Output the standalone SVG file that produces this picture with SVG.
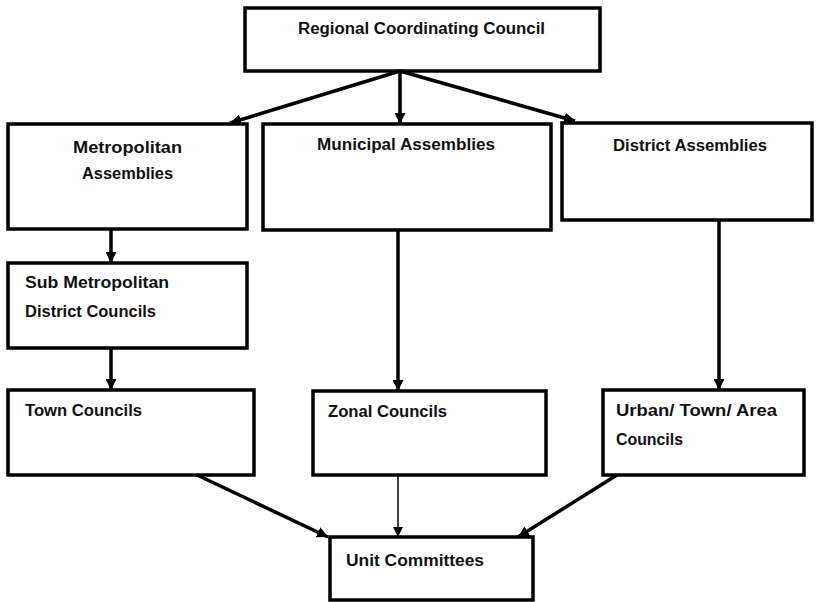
<svg xmlns="http://www.w3.org/2000/svg" width="817" height="602" viewBox="0 0 817 602">
<style>
.box{fill:#fff;stroke:#000;stroke-width:3.5}
.t{font-family:"Liberation Sans",Arial,sans-serif;font-weight:bold;font-size:16px;fill:#111}
.c{fill:none;stroke:#000;stroke-width:3.5}
.thin{fill:none;stroke:#000;stroke-width:1.5}
</style>
<defs>
<marker id="ah" viewBox="0 0 10 10" refX="10" refY="5" markerWidth="11" markerHeight="11" markerUnits="userSpaceOnUse" orient="auto">
<path d="M0,0 L10,5 L0,10 z" fill="#000"/>
</marker>
<marker id="ahs" viewBox="0 0 10 10" refX="10" refY="5" markerWidth="10" markerHeight="10" markerUnits="userSpaceOnUse" orient="auto">
<path d="M0,0 L10,5 L0,10 z" fill="#000"/>
</marker>
</defs>
<g id="regional"><rect class="box" x="245" y="8" width="355" height="63"/><text class="t" x="298" y="34" textLength="247" lengthAdjust="spacingAndGlyphs">Regional Coordinating Council</text></g>
<g id="metropolitan"><rect class="box" x="8" y="124" width="239" height="105"/><text class="t" x="73" y="153" textLength="109" lengthAdjust="spacingAndGlyphs">Metropolitan</text><text class="t" x="82" y="179" textLength="91" lengthAdjust="spacingAndGlyphs">Assemblies</text></g>
<g id="municipal"><rect class="box" x="263" y="124" width="288" height="106"/><text class="t" x="317" y="150" textLength="178" lengthAdjust="spacingAndGlyphs">Municipal Assemblies</text></g>
<g id="district"><rect class="box" x="562" y="123" width="250" height="97"/><text class="t" x="613" y="151" textLength="154" lengthAdjust="spacingAndGlyphs">District Assemblies</text></g>
<g id="submetro"><rect class="box" x="8" y="263" width="239" height="85"/><text class="t" x="25" y="288" textLength="144" lengthAdjust="spacingAndGlyphs">Sub Metropolitan</text><text class="t" x="25" y="317" textLength="131" lengthAdjust="spacingAndGlyphs">District Councils</text></g>
<g id="town"><rect class="box" x="8" y="390" width="246" height="85"/><text class="t" x="25" y="416" textLength="117" lengthAdjust="spacingAndGlyphs">Town Councils</text></g>
<g id="zonal"><rect class="box" x="313" y="391" width="233" height="84"/><text class="t" x="328" y="417" textLength="119" lengthAdjust="spacingAndGlyphs">Zonal Councils</text></g>
<g id="urban"><rect class="box" x="603" y="390" width="201" height="85"/><text class="t" x="616" y="416" textLength="161" lengthAdjust="spacingAndGlyphs">Urban/ Town/ Area</text><text class="t" x="616" y="445" textLength="67" lengthAdjust="spacingAndGlyphs">Councils</text></g>
<g id="unit"><rect class="box" x="330" y="537" width="203" height="63"/><text class="t" x="346" y="566" textLength="138" lengthAdjust="spacingAndGlyphs">Unit Committees</text></g>
<g id="connectors">
<line class="c" x1="400" y1="71" x2="230" y2="123" marker-end="url(#ah)"/>
<line class="c" x1="400" y1="71" x2="400" y2="124" marker-end="url(#ah)"/>
<line class="c" x1="400" y1="71" x2="575" y2="121" marker-end="url(#ah)"/>
<line class="c" x1="111" y1="229" x2="111" y2="263" marker-end="url(#ah)"/>
<line class="c" x1="111" y1="348" x2="111" y2="390" marker-end="url(#ah)"/>
<line class="c" x1="398" y1="230" x2="398" y2="391" marker-end="url(#ah)"/>
<line class="c" x1="719" y1="220" x2="719" y2="390" marker-end="url(#ah)"/>
<line class="c" x1="197" y1="475" x2="328" y2="537" marker-end="url(#ah)"/>
<line class="thin" x1="398" y1="475" x2="398" y2="537" marker-end="url(#ahs)"/>
<line class="c" x1="617" y1="475" x2="518" y2="537" marker-end="url(#ah)"/>
</g>
</svg>
